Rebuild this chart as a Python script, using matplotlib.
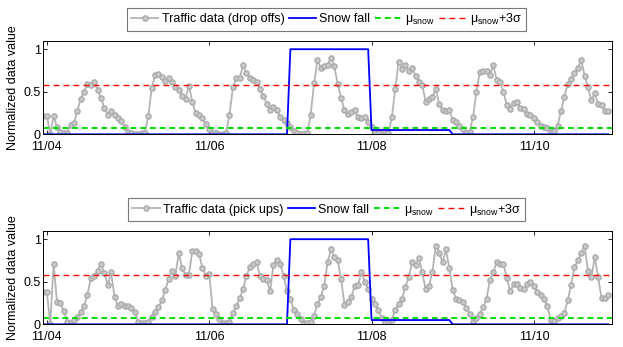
import numpy as np
import matplotlib
matplotlib.use("Agg")
import matplotlib.pyplot as plt

plt.rcParams['font.family'] = ['Liberation Sans', 'DejaVu Sans']
plt.rcParams['mathtext.fontset'] = 'custom'
plt.rcParams['mathtext.rm'] = 'Liberation Sans'
plt.rcParams['mathtext.it'] = 'Liberation Sans:italic'

# ---- data (hourly, normalized) ----
tick_labels = ['11/04', '11/06', '11/08', '11/10']
tick_hours = [0, 48, 96, 144]

drop_d0 = [0.22, 0.22, 0.00, 0.22, 0.08, 0.03, 0.01, 0.02, 0.11, 0.13, 0.27, 0.42, 0.50, 0.59, 0.58, 0.61, 0.52, 0.43, 0.31, 0.23, 0.27, 0.23, 0.19, 0.16]
drop_d1 = [0.09, 0.03, 0.01, 0.00, 0.00, 0.01, 0.02, 0.22, 0.54, 0.70, 0.71, 0.67, 0.63, 0.66, 0.61, 0.56, 0.52, 0.45, 0.42, 0.57, 0.38, 0.25, 0.23, 0.19]
drop_d2 = [0.12, 0.06, 0.02, 0.01, 0.00, 0.00, 0.02, 0.23, 0.55, 0.66, 0.66, 0.81, 0.72, 0.66, 0.64, 0.62, 0.53, 0.45, 0.36, 0.28, 0.32, 0.28, 0.20, 0.17]
drop_d3 = [0.13, 0.09, 0.04, 0.01, 0.00, 0.00, 0.01, 0.23, 0.60, 0.87, 0.78, 0.80, 0.81, 0.90, 0.80, 0.59, 0.43, 0.28, 0.24, 0.26, 0.28, 0.20, 0.19, 0.20]
drop_d4 = [0.15, 0.08, 0.03, 0.01, 0.00, 0.00, 0.02, 0.20, 0.53, 0.85, 0.77, 0.81, 0.74, 0.78, 0.69, 0.62, 0.58, 0.38, 0.41, 0.44, 0.53, 0.36, 0.28, 0.27]
drop_d5 = [0.28, 0.17, 0.14, 0.10, 0.06, 0.02, 0.03, 0.20, 0.50, 0.73, 0.74, 0.74, 0.70, 0.81, 0.64, 0.61, 0.50, 0.34, 0.30, 0.37, 0.38, 0.31, 0.30, 0.24]
drop_d6 = [0.23, 0.19, 0.15, 0.10, 0.08, 0.07, 0.03, 0.04, 0.10, 0.27, 0.44, 0.59, 0.65, 0.72, 0.78, 0.87, 0.69, 0.55, 0.40, 0.48, 0.36, 0.35, 0.27, 0.27]

pick_d0 = [0.38, 0.38, 0.00, 0.71, 0.26, 0.25, 0.16, 0.03, 0.02, 0.05, 0.08, 0.15, 0.22, 0.35, 0.54, 0.57, 0.63, 0.71, 0.60, 0.46, 0.61, 0.32, 0.22, 0.24]
pick_d1 = [0.22, 0.21, 0.19, 0.15, 0.03, 0.02, 0.01, 0.03, 0.09, 0.15, 0.20, 0.28, 0.40, 0.53, 0.63, 0.57, 0.84, 0.66, 0.58, 0.58, 0.86, 0.86, 0.83, 0.66]
pick_d2 = [0.57, 0.59, 0.18, 0.12, 0.06, 0.02, 0.01, 0.03, 0.13, 0.21, 0.31, 0.41, 0.57, 0.67, 0.71, 0.73, 0.57, 0.53, 0.52, 0.39, 0.70, 0.75, 0.71, 0.57]
pick_d3 = [0.39, 0.30, 0.17, 0.12, 0.06, 0.01, 0.01, 0.03, 0.10, 0.24, 0.32, 0.45, 0.73, 0.88, 0.79, 0.75, 0.53, 0.23, 0.26, 0.32, 0.45, 0.46, 0.61, 0.50]
pick_d4 = [0.42, 0.30, 0.24, 0.17, 0.07, 0.01, 0.00, 0.05, 0.17, 0.24, 0.30, 0.44, 0.55, 0.73, 0.70, 0.78, 0.61, 0.41, 0.45, 0.62, 0.92, 0.84, 0.73, 0.88]
pick_d5 = [0.66, 0.40, 0.30, 0.28, 0.26, 0.19, 0.12, 0.03, 0.07, 0.12, 0.20, 0.30, 0.52, 0.61, 0.73, 0.71, 0.71, 0.54, 0.39, 0.47, 0.47, 0.43, 0.42, 0.47]
pick_d6 = [0.50, 0.45, 0.38, 0.35, 0.30, 0.21, 0.05, 0.04, 0.07, 0.10, 0.13, 0.28, 0.46, 0.67, 0.75, 0.84, 0.92, 0.63, 0.55, 0.79, 0.55, 0.31, 0.31, 0.34]

# snow fall: level held for a number of hourly samples
snow_levels = [0.0, 1.0, 0.05, 0.0]
snow_counts = [73, 24, 24, 47]

mu_snow = 0.07
mu_snow_3sigma = 0.585

drop_offs = np.array(drop_d0 + drop_d1 + drop_d2 + drop_d3 + drop_d4 + drop_d5 + drop_d6)
pick_ups = np.array(pick_d0 + pick_d1 + pick_d2 + pick_d3 + pick_d4 + pick_d5 + pick_d6)
snow = np.repeat(snow_levels, snow_counts)
hours = np.arange(len(drop_offs)) - 1

fig = plt.figure(figsize=(6.23, 3.47), dpi=100)
ax_rects = [[0.0698, 0.613, 0.912, 0.2697], [0.0698, 0.0654, 0.912, 0.2698]]
legend_y = [0.944, 0.396]
series = [(drop_offs, 'Traffic data (drop offs)'), (pick_ups, 'Traffic data (pick ups)')]

for rect, ly, (vals, name) in zip(ax_rects, legend_y, series):
    ax = fig.add_axes(rect)
    l1, = ax.plot(hours, vals, '-o', color='#b4b4b4', lw=1.3, ms=3.8,
                  mfc='#c8c8c8', mec='#a8a8a8', mew=0.9, label=name)
    l2, = ax.plot(hours, snow, '-', color='#0000ff', lw=1.3, label='Snow fall')
    l3 = ax.axhline(mu_snow, color='#00e000', lw=1.4, dashes=(3.0, 2.0), label='μ$_{\\mathrm{snow}}$')
    l4 = ax.axhline(mu_snow_3sigma, color='#ff0000', lw=1.0, dashes=(4.2, 3.0), label='μ$_{\\mathrm{snow}}$+3σ')
    ax.set_xlim(-1, 167)
    ax.set_ylim(0, 1.1)
    ax.set_xticks(tick_hours)
    ax.set_xticklabels(tick_labels)
    ax.set_yticks([0, 0.5, 1])
    ax.set_yticklabels(['0', '0.5', '1'])
    ax.tick_params(direction='in', length=3, width=0.6, top=True, right=True,
                   labelsize=9, colors='black')
    ax.tick_params(axis='x', pad=4.5)
    ax.tick_params(axis='y', pad=2)
    for s in ax.spines.values():
        s.set_linewidth(0.7)
    ax.set_ylabel('Normalized data value', fontsize=9, labelpad=3)
    leg = fig.legend(handles=[l1, l2, l3, l4], loc='center', bbox_to_anchor=(0.524, ly),
                     ncol=4, fontsize=9, frameon=True, fancybox=False, borderpad=0.3,
                     handlelength=2.2, handletextpad=0.25, columnspacing=0.35,
                     borderaxespad=0)
    leg.get_frame().set_edgecolor('#555555')
    leg.get_frame().set_linewidth(0.8)

fig.savefig('out.png', dpi=100)
